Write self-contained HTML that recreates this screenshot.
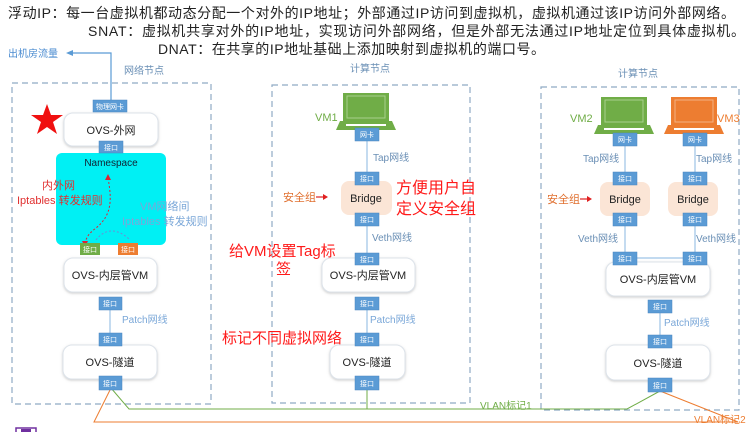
<!DOCTYPE html>
<html><head><meta charset="utf-8"><style>
body{margin:0;background:#fff;width:754px;height:432px;overflow:hidden}
svg text{font-family:"Liberation Sans","Noto Sans CJK SC",sans-serif}
</style></head><body>
<svg width="754" height="432" viewBox="0 0 754 432" xmlns="http://www.w3.org/2000/svg">
<defs>
<filter id="sh" x="-10%" y="-10%" width="120%" height="130%"><feDropShadow dx="0" dy="1" stdDeviation="1.2" flood-color="#999" flood-opacity="0.5"/></filter>
</defs>
<!-- header -->
<text x="8" y="18" font-size="14" fill="#222" textLength="727" lengthAdjust="spacing">浮动IP：每一台虚拟机都动态分配一个对外的IP地址；外部通过IP访问到虚拟机，虚拟机通过该IP访问外部网络。</text>
<text x="88" y="36" font-size="14" fill="#222" textLength="657" lengthAdjust="spacing">SNAT：虚拟机共享对外的IP地址，实现访问外部网络，但是外部无法通过IP地址定位到具体虚拟机。</text>
<text x="158" y="54" font-size="14" fill="#222" textLength="387" lengthAdjust="spacing">DNAT：在共享的IP地址基础上添加映射到虚拟机的端口号。</text>
<text x="8" y="57" font-size="10" fill="#4a8bd0">出机房流量</text>
<path d="M111 100 V53 H72" stroke="#5b9bd5" stroke-width="1.2" fill="none"/>
<path d="M66 53 l7 -3 v6z" fill="#5b9bd5"/>

<!-- containers -->
<g fill="none" stroke="#8faac4" stroke-width="1.2" stroke-dasharray="6,4">
<rect x="12" y="83" width="199" height="321"/>
<rect x="272" y="85" width="198" height="318"/>
<rect x="541" y="87" width="198" height="323"/>
</g>
<g font-size="10" fill="#6a8fb5">
<text x="124" y="74">网络节点</text>
<text x="350" y="72">计算节点</text>
<text x="618" y="77">计算节点</text>
</g>

<!-- lines -->
<g stroke="#9dc3e6" stroke-width="1.2">
<line x1="110" y1="300" x2="110" y2="340"/>
<line x1="367" y1="135" x2="367" y2="180"/>
<line x1="367" y1="215" x2="367" y2="260"/>
<line x1="367" y1="300" x2="367" y2="340"/>
<line x1="625" y1="140" x2="625" y2="180"/>
<line x1="695" y1="140" x2="695" y2="180"/>
<line x1="625" y1="215" x2="625" y2="260"/>
<line x1="695" y1="215" x2="695" y2="260"/>
<line x1="625" y1="258" x2="695" y2="258"/>
<line x1="660" y1="300" x2="660" y2="340"/>
</g>

<!-- left node -->
<rect x="64" y="113" width="94" height="33" rx="9" fill="#fff" stroke="#dde3ea" filter="url(#sh)"/>
<text x="111" y="134" font-size="11" text-anchor="middle" fill="#222">OVS-外网</text>
<rect x="56" y="153" width="110" height="92" rx="6" fill="#00f0f4"/>
<text x="111" y="166" font-size="10" text-anchor="middle" fill="#123">Namespace</text>
<path d="M108 178 C112 200,112 215,96 228 C88 234,86 238,85 244" stroke="#d23" stroke-width="1" stroke-dasharray="2,2" fill="none"/>
<path d="M108 174 l-3 6 h6z M85 247 l-3 -6 h6z" fill="#d23"/>
<path d="M96 240 C105 228,118 228,130 240" stroke="#6a8fd5" stroke-width="1" stroke-dasharray="2,2" fill="none"/>
<text x="42" y="189" font-size="11" fill="#e03030">内外网</text>
<text x="17" y="204" font-size="11" fill="#e03030">Iptables 转发规则</text>
<text x="140" y="210" font-size="11" fill="#7aa7d8">VM网络间</text>
<text x="122" y="225" font-size="11" fill="#7aa7d8">Iptables 转发规则</text>
<polygon points="47,104 51,115 63,115 53,122 57,134 47,127 37,134 41,122 31,115 43,115" fill="#f01010"/>
<rect x="64" y="258" width="93" height="34" rx="9" fill="#fff" stroke="#dde3ea" filter="url(#sh)"/>
<text x="110" y="279" font-size="11" text-anchor="middle" fill="#222">OVS-内层管VM</text>
<text x="122" y="323" font-size="10" fill="#7aa7d8">Patch网线</text>
<rect x="63" y="345" width="94" height="34" rx="9" fill="#fff" stroke="#dde3ea" filter="url(#sh)"/>
<text x="110" y="366" font-size="11" text-anchor="middle" fill="#222">OVS-隧道</text>

<!-- middle node -->
<g id="lap">
<path d="M343 93 h46 v28 h-46z" fill="#70ad47"/>
<rect x="347" y="96" width="38" height="22" fill="none" stroke="#a9d08e" stroke-width="1"/>
<path d="M340 121 h52 l4 9 h-60z" fill="#70ad47"/>
<rect x="346" y="124" width="40" height="2" fill="#fff"/>
</g>
<text x="315" y="121" font-size="11" fill="#70ad47">VM1</text>
<text x="373" y="161" font-size="10" fill="#6a8fb5">Tap网线</text>
<rect x="341" y="181" width="51" height="34" rx="8" fill="#fbe5d6"/>
<text x="366" y="202" font-size="11" text-anchor="middle" fill="#222">Bridge</text>
<text x="283" y="201" font-size="11" fill="#e07030">安全组</text>
<path d="M316 197 h8" stroke="#e02020" stroke-width="1.2"/><path d="M328 197 l-5 -3 v6z" fill="#e02020"/>
<text x="396" y="193" font-size="16" fill="#ff1a1a">方便用户自</text>
<text x="396" y="214" font-size="16" fill="#ff1a1a">定义安全组</text>
<text x="372" y="241" font-size="10" fill="#6a8fb5">Veth网线</text>
<rect x="322" y="258" width="93" height="34" rx="9" fill="#fff" stroke="#dde3ea" filter="url(#sh)"/>
<text x="368" y="279" font-size="11" text-anchor="middle" fill="#222">OVS-内层管VM</text>
<text x="370" y="323" font-size="10" fill="#7aa7d8">Patch网线</text>
<rect x="330" y="345" width="75" height="34" rx="9" fill="#fff" stroke="#dde3ea" filter="url(#sh)"/>
<text x="367" y="366" font-size="11" text-anchor="middle" fill="#222">OVS-隧道</text>
<text x="229" y="256" font-size="15" fill="#ff1a1a">给VM设置Tag标</text>
<text x="276" y="274" font-size="15" fill="#ff1a1a">签</text>
<text x="222" y="343" font-size="15" fill="#ff1a1a">标记不同虚拟网络</text>

<!-- right node -->
<use href="#lap" transform="translate(258,4)"/>
<g transform="translate(328,4)">
<path d="M343 93 h46 v28 h-46z" fill="#ed7d31"/>
<rect x="347" y="96" width="38" height="22" fill="none" stroke="#f4b183" stroke-width="1"/>
<path d="M340 121 h52 l4 9 h-60z" fill="#ed7d31"/>
<rect x="346" y="124" width="40" height="2" fill="#fff"/>
</g>
<text x="570" y="122" font-size="11" fill="#70ad47">VM2</text>
<text x="717" y="122" font-size="11" fill="#ed7d31">VM3</text>
<text x="583" y="162" font-size="10" fill="#6a8fb5">Tap网线</text>
<text x="696" y="162" font-size="10" fill="#6a8fb5">Tap网线</text>
<rect x="600" y="182" width="50" height="34" rx="8" fill="#fbe5d6"/>
<rect x="668" y="182" width="50" height="34" rx="8" fill="#fbe5d6"/>
<text x="625" y="203" font-size="11" text-anchor="middle" fill="#222">Bridge</text>
<text x="693" y="203" font-size="11" text-anchor="middle" fill="#222">Bridge</text>
<text x="547" y="203" font-size="11" fill="#e07030">安全组</text>
<path d="M580 199 h8" stroke="#e02020" stroke-width="1.2"/><path d="M592 199 l-5 -3 v6z" fill="#e02020"/>
<text x="578" y="242" font-size="10" fill="#6a8fb5">Veth网线</text>
<text x="696" y="242" font-size="10" fill="#6a8fb5">Veth网线</text>
<rect x="606" y="262" width="104" height="34" rx="9" fill="#fff" stroke="#dde3ea" filter="url(#sh)"/>
<text x="658" y="283" font-size="11" text-anchor="middle" fill="#222">OVS-内层管VM</text>
<text x="664" y="326" font-size="10" fill="#7aa7d8">Patch网线</text>
<rect x="606" y="345" width="104" height="35" rx="9" fill="#fff" stroke="#dde3ea" filter="url(#sh)"/>
<text x="658" y="367" font-size="11" text-anchor="middle" fill="#222">OVS-隧道</text>

<!-- VLAN lines -->
<path d="M111 388 L129 409 H627 L660 391" stroke="#70ad47" stroke-width="1" fill="none"/>
<line x1="367" y1="388" x2="367" y2="409" stroke="#70ad47" stroke-width="1"/>
<path d="M111 388 L94 422 H738 L660 391" stroke="#ed7d31" stroke-width="1" fill="none"/>
<text x="480" y="409" font-size="10" fill="#70ad47">VLAN标记1</text>
<text x="694" y="423" font-size="10" fill="#ed7d31">VLAN标记2</text>
<path d="M16 432 V428 H36 V432" stroke="#7030a0" stroke-width="1.5" fill="none"/>
<rect x="21" y="429" width="10" height="3" fill="#7030a0"/>

<!-- port boxes -->
<g fill="#5b9bd5" stroke="#4a86c0" stroke-width="0.5">
<rect x="93" y="100" width="34" height="12"/>
<rect x="99" y="141" width="24" height="12"/>
<rect x="99" y="297" width="23" height="13"/>
<rect x="99" y="333" width="23" height="13"/>
<rect x="99" y="376" width="23" height="14"/>
<rect x="355" y="128" width="24" height="13"/>
<rect x="355" y="172" width="24" height="13"/>
<rect x="355" y="213" width="24" height="13"/>
<rect x="355" y="253" width="24" height="12"/>
<rect x="355" y="297" width="24" height="13"/>
<rect x="355" y="333" width="24" height="13"/>
<rect x="355" y="376" width="24" height="14"/>
<rect x="613" y="133" width="24" height="13"/>
<rect x="683" y="133" width="24" height="13"/>
<rect x="613" y="172" width="24" height="13"/>
<rect x="683" y="172" width="24" height="13"/>
<rect x="613" y="213" width="24" height="13"/>
<rect x="683" y="213" width="24" height="13"/>
<rect x="613" y="252" width="24" height="13"/>
<rect x="683" y="252" width="24" height="13"/>
<rect x="648" y="300" width="24" height="13"/>
<rect x="648" y="335" width="24" height="13"/>
<rect x="648" y="378" width="24" height="14"/>
</g>
<rect x="80" y="243" width="20" height="12" fill="#70ad47"/>
<rect x="118" y="243" width="20" height="12" fill="#ed7d31"/>
<g font-size="7" fill="#fff" text-anchor="middle">
<text x="110" y="109">物理网卡</text>
<text x="111" y="150">接口</text>
<text x="90" y="252">接口</text>
<text x="128" y="252">接口</text>
<text x="110" y="306">接口</text><text x="110" y="342">接口</text><text x="110" y="386">接口</text>
<text x="367" y="137">网卡</text><text x="367" y="181">接口</text><text x="367" y="222">接口</text>
<text x="367" y="262">接口</text><text x="367" y="306">接口</text><text x="367" y="342">接口</text><text x="367" y="386">接口</text>
<text x="625" y="142">网卡</text><text x="695" y="142">网卡</text>
<text x="625" y="181">接口</text><text x="695" y="181">接口</text>
<text x="625" y="222">接口</text><text x="695" y="222">接口</text>
<text x="625" y="261">接口</text><text x="695" y="261">接口</text>
<text x="660" y="309">接口</text><text x="660" y="344">接口</text><text x="660" y="388">接口</text>
</g>
</svg>
</body></html>
